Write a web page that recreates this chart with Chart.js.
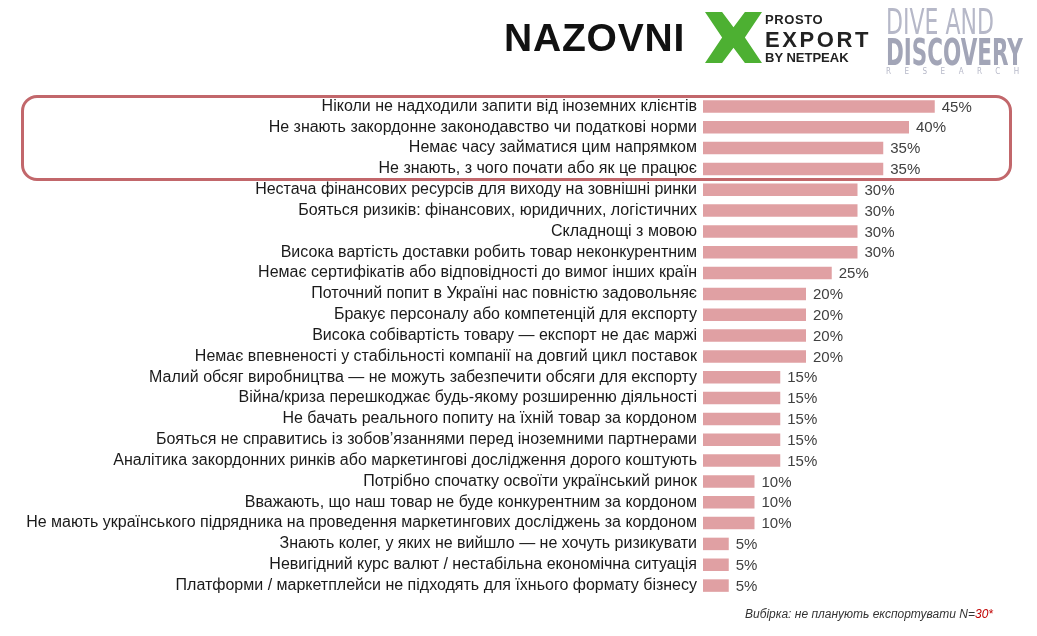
<!DOCTYPE html>
<html>
<head>
<meta charset="utf-8">
<script src="https://cdn.jsdelivr.net/npm/chart.js@4"></script>
<style>
  html, body { margin: 0; padding: 0; background: #fff; }
  body { width: 1037px; height: 636px; position: relative; overflow: hidden; font-family: "Liberation Sans", Arial, sans-serif; }
  #c { position: absolute; left: 0; top: 0; }
  .frame { position: absolute; left: 21px; top: 95px; width: 985px; height: 80px; border: 3px solid #c2676b; border-radius: 16px; }
  .logo-nz { position: absolute; left: 504px; top: 16px; font: bold 39px "Liberation Sans", Arial, sans-serif; letter-spacing: 0.8px; color: #111; white-space: nowrap; }
  .x-mark { position: absolute; left: 705px; top: 12px; width: 57px; height: 51px; background: #4db032;
    clip-path: polygon(0 0, 30% 0, 50% 30%, 70% 0, 100% 0, 70% 50%, 100% 100%, 70% 100%, 50% 70%, 30% 100%, 0 100%, 30% 50%); }
  .px { position: absolute; left: 765px; font-family: "Liberation Sans", Arial, sans-serif; font-weight: bold; color: #222; line-height: 1; white-space: nowrap; }
  .dd { position: absolute; left: 886px; line-height: 1; font-family: "DejaVu Sans Condensed", "Liberation Sans Narrow", sans-serif; white-space: nowrap; }
  .note { position: absolute; left: 745px; top: 607px; font: italic 12px "Liberation Sans", Arial, sans-serif; color: #333; white-space: nowrap; }
  .note span { color: #c00000; }
</style>
</head>
<body>
<canvas id="c" width="1037" height="636"></canvas>
<div class="frame"></div>
<div class="logo-nz">NAZOVNI</div>
<div class="x-mark"></div>
<div class="px" style="top:13px;font-size:13px;letter-spacing:0.6px;">PROSTO</div>
<div class="px" style="top:29px;font-size:22px;letter-spacing:2.6px;">EXPORT</div>
<div class="px" style="top:51px;font-size:13px;">BY NETPEAK</div>
<div class="dd" style="top:4px;font-size:36px;color:#b6b8c8;transform:scaleX(0.68);transform-origin:left;">DIVE AND</div>
<div class="dd" style="top:34px;font-size:37px;font-weight:bold;color:#a2a5b7;transform:scaleX(0.645);transform-origin:left;">DISCOVERY</div>
<div class="dd" style="top:68px;font-size:8px;letter-spacing:13.5px;color:#b6b8c8;">RESEARCH</div>
<div class="note">Вибірка: не планують експортувати N=<span>30*</span></div>
<script>
const reasons = [
  "Ніколи не надходили запити від іноземних клієнтів",
  "Не знають закордонне законодавство чи податкові норми",
  "Немає часу займатися цим напрямком",
  "Не знають, з чого почати або як це працює",
  "Нестача фінансових ресурсів для виходу на зовнішні ринки",
  "Бояться ризиків: фінансових, юридичних, логістичних",
  "Складнощі з мовою",
  "Висока вартість доставки робить товар неконкурентним",
  "Немає сертифікатів або відповідності до вимог інших країн",
  "Поточний попит в Україні нас повністю задовольняє",
  "Бракує персоналу або компетенцій для експорту",
  "Висока собівартість товару — експорт не дає маржі",
  "Немає впевненості у стабільності компанії на довгий цикл поставок",
  "Малий обсяг виробництва — не можуть забезпечити обсяги для експорту",
  "Війна/криза перешкоджає будь-якому розширенню діяльності",
  "Не бачать реального попиту на їхній товар за кордоном",
  "Бояться не справитись із зобов’язаннями перед іноземними партнерами",
  "Аналітика закордонних ринків або маркетингові дослідження дорого коштують",
  "Потрібно спочатку освоїти український ринок",
  "Вважають, що наш товар не буде конкурентним за кордоном",
  "Не мають українського підрядника на проведення маркетингових досліджень за кордоном",
  "Знають колег, у яких не вийшло — не хочуть ризикувати",
  "Невигідний курс валют / нестабільна економічна ситуація",
  "Платформи / маркетплейси не підходять для їхнього формату бізнесу"
];
const shares = [45, 40, 35, 35, 30, 30, 30, 30, 25, 20, 20, 20, 20, 15, 15, 15, 15, 15, 10, 10, 10, 5, 5, 5];

// value labels after each bar
const valueLabels = {
  id: 'valueLabels',
  afterDatasetsDraw(chart) {
    const ctx = chart.ctx;
    const meta = chart.getDatasetMeta(0);
    ctx.save();
    ctx.font = '15px "Liberation Sans", Arial, sans-serif';
    ctx.fillStyle = '#404040';
    ctx.textBaseline = 'middle';
    meta.data.forEach((bar, i) => {
      ctx.fillText(shares[i] + '%', bar.x + 7, bar.y + 1);
    });
    ctx.restore();
  }
};

const myChart = new Chart(document.getElementById('c'), {
  type: 'bar',
  data: {
    labels: reasons,
    datasets: [{
      data: shares,
      backgroundColor: '#e0a0a3',
      borderWidth: 0,
      barPercentage: 0.6,
      categoryPercentage: 1
    }]
  },
  options: {
    indexAxis: 'y',
    responsive: false,
    animation: false,
    layout: { padding: { top: 96, bottom: 40, left: 0, right: 25 } },
    plugins: { legend: { display: false }, tooltip: { enabled: false } },
    scales: {
      x: { display: false, min: 0, max: 60 },
      y: {
        grid: { display: false, drawTicks: false },
        border: { display: false },
        ticks: {
          color: '#1a1a1a',
          padding: 6,
          autoSkip: false,
          font: { family: '"Liberation Sans", Arial, sans-serif', size: 16 }
        },
        afterFit: (s) => { s.width = 703; }
      }
    }
  },
  plugins: [valueLabels]
});
</script>
</body>
</html>
